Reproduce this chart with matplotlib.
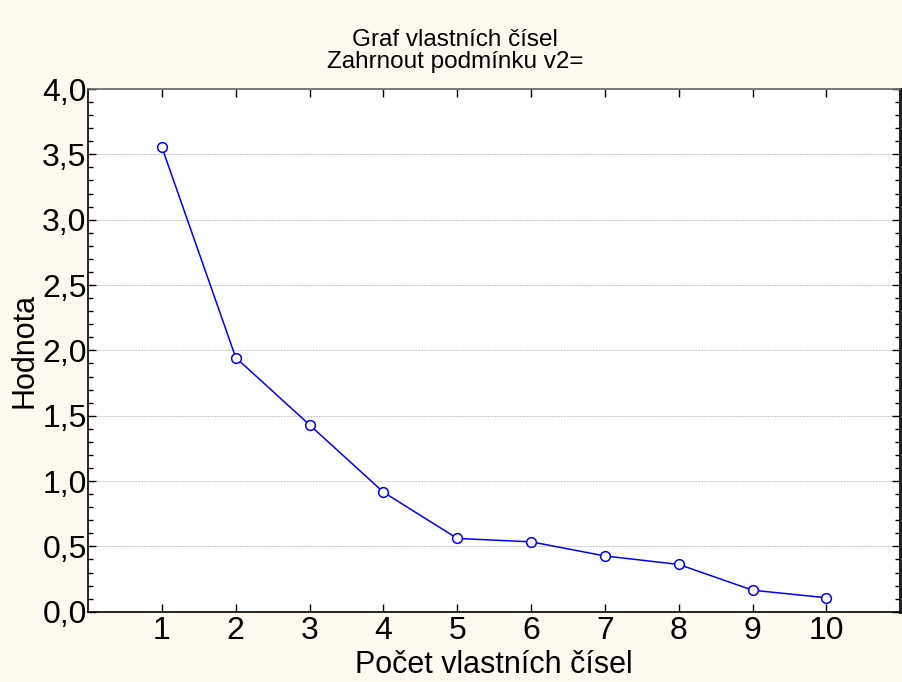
import numpy as np
import matplotlib
matplotlib.use("Agg")
import matplotlib.pyplot as plt
from matplotlib.ticker import MultipleLocator, FuncFormatter

# hodnoty vlastních čísel
cisla = [1, 2, 3, 4, 5, 6, 7, 8, 9, 10]
hodnoty = [3.555, 1.945, 1.43, 0.915, 0.561, 0.535, 0.427, 0.362, 0.165, 0.107]

titulek = "Graf vlastních čísel\nZahrnout podmínku v2="
popis_x = "Počet vlastních čísel"
popis_y = "Hodnota"

plt.rcParams['font.family'] = ['Liberation Sans', 'DejaVu Sans']

bg = '#fdf9ef'
fig = plt.figure(figsize=(9.03, 6.82), dpi=100, facecolor=bg)
ax = fig.add_axes([0.0975, 0.103, 0.8995, 0.7665])
ax.set_facecolor('white')

ax.plot(cisla, hodnoty, color='#0000ff', lw=1.1, marker='o', ms=7,
        mfc='white', mec='#0000ff', mew=1.1, zorder=3)

ax.set_xlim(0, 11)
ax.set_ylim(0, 4.0)
ax.set_xticks(cisla)
ax.yaxis.set_major_locator(MultipleLocator(0.5))
ax.yaxis.set_minor_locator(MultipleLocator(0.1))
ax.yaxis.set_major_formatter(FuncFormatter(lambda v, p: f'{v:.1f}'.replace('.', ',')))

ax.grid(axis='y', which='major', color='#c8c8c8', ls=(0, (2, 1)), lw=0.7)
ax.tick_params(axis='both', which='major', direction='in', length=6, width=1,
               labelsize=23, top=True, right=True)
ax.tick_params(axis='y', which='minor', direction='in', length=3.5, width=1,
               right=True, left=True)
ax.tick_params(axis='y', which='major', pad=1)
ax.tick_params(axis='x', which='major', pad=3)

for s in ['left', 'bottom']:
    ax.spines[s].set_color('black')
    ax.spines[s].set_linewidth(1.2)
ax.spines['top'].set_color('#666666')
ax.spines['top'].set_linewidth(1.2)
ax.spines['right'].set_color('#222222')
ax.spines['right'].set_linewidth(2.2)

ax.set_xlabel(popis_x, fontsize=22, labelpad=3)
ax.set_ylabel(popis_y, fontsize=22, labelpad=2)
fig.text(0.504, 0.958, titulek, ha='center', va='top', fontsize=17.5,
         linespacing=1.05)

plt.savefig('out.png', dpi=100, facecolor=bg)
